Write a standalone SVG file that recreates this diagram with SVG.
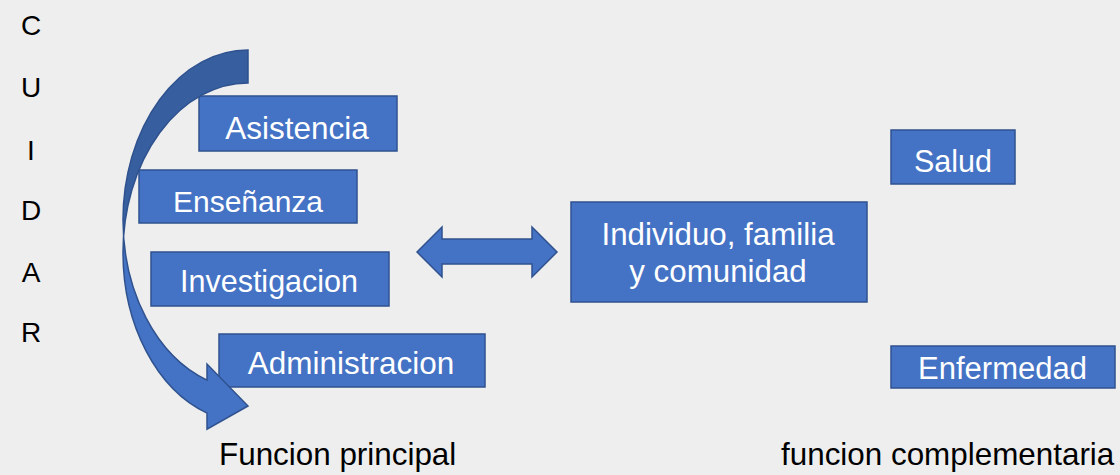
<svg xmlns="http://www.w3.org/2000/svg" width="1120" height="475" viewBox="0 0 1120 475">
<style>
.box{fill:#4472C4;stroke:#2F528F;stroke-width:1.5}
.bt{font-family:"Liberation Sans",Arial,sans-serif;font-size:31px;fill:#FFFFFF;text-anchor:middle}
.lbl{font-family:"Liberation Sans",Arial,sans-serif;font-size:31.4px;fill:#000000}
.v{font-family:"Liberation Sans",Arial,sans-serif;font-size:28px;fill:#000000;text-anchor:middle}
.arw{fill:#4472C4;stroke:none}
.arwd{fill:#375F9F;stroke:none}
.ol{fill:none;stroke:#2F528F;stroke-width:1.5;stroke-linejoin:miter}
</style>
<rect width="1120" height="475" fill="#EEEEEE"/>
<g id="cuidar">
<text class="v" x="31" y="35">C</text>
<text class="v" x="31" y="97">U</text>
<text class="v" x="31" y="160">I</text>
<text class="v" x="31" y="220">D</text>
<text class="v" x="31" y="282">A</text>
<text class="v" x="31" y="342">R</text>
</g>
<g id="asistencia">
<rect class="box" x="199" y="96" width="198" height="55"/>
<text class="bt" x="297" y="139" style="font-size:31.5px">Asistencia</text>
</g>
<g id="ensenanza">
<rect class="box" x="139" y="170" width="218" height="53"/>
<text class="bt" x="248" y="212" style="font-size:30px">Enseñanza</text>
</g>
<g id="investigacion">
<rect class="box" x="151" y="252" width="238" height="54"/>
<text class="bt" x="269" y="292" style="font-size:30.5px">Investigacion</text>
</g>
<g id="administracion">
<rect class="box" x="219" y="334" width="266" height="53"/>
<text class="bt" x="351" y="374" style="font-size:31.5px">Administracion</text>
</g>
<g id="individuo">
<rect class="box" x="571" y="202" width="296" height="100"/>
<text class="bt" x="718" y="245" style="font-size:31.3px">Individuo, familia</text>
<text class="bt" x="718" y="282" style="font-size:31.3px">y comunidad</text>
</g>
<g id="salud">
<rect class="box" x="891" y="130" width="124" height="54"/>
<text class="bt" x="953" y="172" style="font-size:30.5px">Salud</text>
</g>
<g id="enfermedad">
<rect class="box" x="891" y="346" width="224" height="42"/>
<text class="bt" x="1002.5" y="379">Enfermedad</text>
</g>
<g id="connectors">
<path class="arw" d="M123,219.75 A125,169.75 0 0 0 207,380.1 L207,364.1 L248,406 L207,429.1 L207,413.1 A125,169.75 0 0 1 123,252.75 Z"/>
<path class="arwd" d="M248,50 A125,169.75 0 0 0 123,219.75 L123,252.75 A125,169.75 0 0 1 248,83 Z"/>
<path class="ol" d="M123,219.75 A125,169.75 0 0 0 207,380.1 L207,364.1 L248,406 L207,429.1 L207,413.1 A125,169.75 0 0 1 123,252.75 M123,252.75 A125,169.75 0 0 1 248,83 L248,50 A125,169.75 0 0 0 123,219.75"/>
<path class="box" d="M417,252 L442,227 L442,239 L532,239 L532,227 L557,252 L532,277 L532,264 L442,264 L442,277 Z"/>
</g>
<g id="labels">
<text class="lbl" x="219" y="465">Funcion principal</text>
<text class="lbl" x="781" y="465">funcion complementaria</text>
</g>
</svg>
